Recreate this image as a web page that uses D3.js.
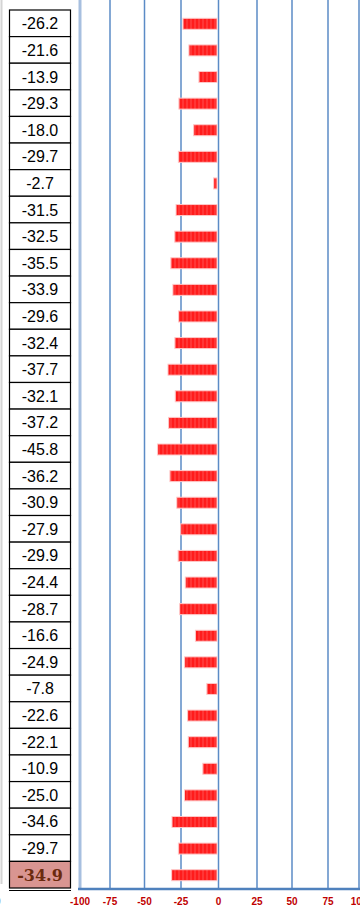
<!DOCTYPE html>
<html lang="en">
<head>
    <meta charset="UTF-8">
    <title>Chart</title>
    <script src="https://d3js.org/d3.v7.min.js"></script>
    <style>
        body { margin: 0; background: #fff; }
        svg { display: block; }
    </style>
</head>
<body>
    <script>
        // values for each row, top to bottom
        const values = [-26.2, -21.6, -13.9, -29.3, -18.0, -29.7, -2.7, -31.5, -32.5, -35.5,
            -33.9, -29.6, -32.4, -37.7, -32.1, -37.2, -45.8, -36.2, -30.9, -27.9,
            -29.9, -24.4, -28.7, -16.6, -24.9, -7.8, -22.6, -22.1, -10.9, -25.0,
            -34.6, -29.7, -34.9];
        const xTicks = [-100, -75, -50, -25, 0, 25, 50, 75, 100];

        const w = 360;
        const h = 907;
        const tableTop = 10;
        const tableBottom = 888;
        const axisY = 889;

        // gridlines in the picture are not evenly spaced, so map each tick
        const xScale = d3.scaleLinear()
            .domain(xTicks)
            .range([80, 110, 144.5, 181, 218.5, 257, 292, 328, 359]);

        // the bars sit on their own (slightly tighter) scale
        const barScale = d3.scaleLinear()
            .domain([-50, 0])
            .range([152, 217]);

        const yScale = d3.scaleBand()
            .domain(d3.range(values.length))
            .range([tableTop, tableBottom]);

        const svg = d3.select('body')
            .append('svg')
            .attr('width', w)
            .attr('height', h);

        // striped red fill for the bars
        const defs = svg.append('defs');
        const pat = defs.append('pattern')
            .attr('id', 'stripes')
            .attr('patternUnits', 'userSpaceOnUse')
            .attr('width', 4)
            .attr('height', 10);
        pat.append('rect').attr('width', 4).attr('height', 10).attr('fill', '#ff1c1c');
        pat.append('rect').attr('x', 2.5).attr('width', 1).attr('height', 10).attr('fill', '#ff5050');

        // faint border at the far left
        svg.append('line')
            .attr('x1', 1.5).attr('x2', 1.5)
            .attr('y1', 0).attr('y2', 884)
            .attr('stroke', '#d4d4d4')
            .attr('stroke-width', 2);

        svg.append('text')
            .attr('x', -5)
            .attr('y', 905)
            .style('font-family', 'Arial, "Liberation Sans", sans-serif')
            .style('font-size', '10px')
            .attr('fill', '#555')
            .text('0');

        // vertical gridlines
        svg.append('g')
            .selectAll('line')
            .data(xTicks)
            .enter()
            .append('line')
            .attr('x1', d => xScale(d))
            .attr('x2', d => xScale(d))
            .attr('y1', 0)
            .attr('y2', axisY)
            .attr('stroke', d => d === -100 ? '#a7bfdf' : '#5b8bc6')
            .attr('stroke-width', d => d === -100 ? 3 : 1.5);

        // bars
        svg.append('g')
            .selectAll('rect')
            .data(values)
            .enter()
            .append('rect')
            .attr('x', d => barScale(d))
            .attr('y', (d, i) => yScale(i) + yScale.bandwidth() / 2 - 5)
            .attr('width', d => barScale(0) - barScale(d))
            .attr('height', 11)
            .attr('fill', 'url(#stripes)')
            .attr('stroke', '#ffc8c8')
            .attr('stroke-width', 1);

        // x axis
        svg.append('line')
            .attr('x1', 78).attr('x2', w)
            .attr('y1', axisY).attr('y2', axisY)
            .attr('stroke', '#4f81bd')
            .attr('stroke-width', 2.5);

        svg.append('g')
            .selectAll('text')
            .data(xTicks)
            .enter()
            .append('text')
            .attr('x', d => xScale(d))
            .attr('y', 905)
            .attr('text-anchor', 'middle')
            .style('font-family', 'Arial, "Liberation Sans", sans-serif')
            .style('font-size', '10px')
            .style('font-weight', 'bold')
            .attr('fill', '#c00000')
            .text(d => d);

        // value table on the left
        const last = values.length - 1;
        const table = svg.append('g');
        table.selectAll('rect')
            .data(values)
            .enter()
            .append('rect')
            .attr('x', 9.5)
            .attr('y', (d, i) => yScale(i))
            .attr('width', 61)
            .attr('height', yScale.bandwidth())
            .attr('fill', (d, i) => i === last ? '#d99591' : '#fff')
            .attr('stroke', '#000')
            .attr('stroke-width', 1.2);

        table.selectAll('text')
            .data(values)
            .enter()
            .append('text')
            .attr('x', 40)
            .attr('y', (d, i) => yScale(i) + yScale.bandwidth() / 2 + 6)
            .attr('text-anchor', 'middle')
            .style('font-family', (d, i) => i === last ? '"DejaVu Serif", serif' : 'Arial, "Liberation Sans", sans-serif')
            .style('font-size', '16px')
            .style('font-weight', (d, i) => i === last ? 'bold' : 'normal')
            .attr('fill', (d, i) => i === last ? '#6b2a0e' : '#000')
            .text(d => d.toFixed(1));

        // double underline under the last cell
        table.append('line')
            .attr('x1', 9).attr('x2', 71)
            .attr('y1', tableBottom + 2.5).attr('y2', tableBottom + 2.5)
            .attr('stroke', '#000')
            .attr('stroke-width', 1);
    </script>
</body>
</html>
